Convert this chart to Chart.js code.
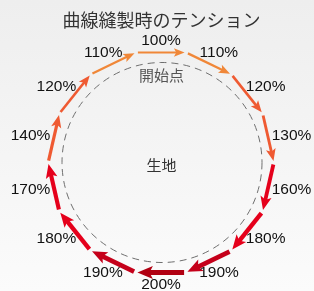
<!DOCTYPE html>
<html><head><meta charset="utf-8">
<script src="https://cdn.jsdelivr.net/npm/chart.js@4"></script>
<style>
html,body{margin:0;padding:0;}
body{width:314px;height:291px;background:linear-gradient(#eeeeee,#fbfbfb);overflow:hidden;}
#wrap{position:relative;width:314px;height:291px;}
</style></head><body><div id="wrap"><canvas id="c"></canvas></div>
<script>
// ---- data ----
const tensionLabels = ['100%','110%','120%','130%','160%','180%','190%','200%','190%','180%','170%','140%','120%','110%'];
const tensionValues = [100,110,120,130,160,180,190,200,190,180,170,140,120,110];
const titleText = '曲線縫製時のテンション';
const startText = '開始点';
const centerText = '生地';

// ---- layout ----
const PX = 110, CX = 161, CY = 162.5, W = 314, H = 291, PAD_LEFT = 9;
const TITLE_SIZE = 18, TITLE_PAD_TOP = 9, TITLE_PAD_BOTTOM = 4;
const TOP = TITLE_PAD_TOP + TITLE_SIZE * 1.2 + TITLE_PAD_BOTTOM;

function colorFor(t){
  if (t <= 110) return '#f08738';
  if (t <= 140) return '#ef5a32';
  if (t <= 180) return '#e5001b';
  if (t < 200) return '#c5001a';
  return '#b10012';
}
function widthFor(t){ return 2 + (t - 100) * 0.03; }
function headLen(w){ return 7.5 + 1.6 * w; }
function headHalf(w){ return 2.6 + 0.8 * w; }

const N = tensionValues.length;
const half = Math.PI / N;
const R = 1 / Math.cos(half);
const sideLen = 2 * Math.tan(half);
function vertex(a){ return {x: R * Math.sin(a), y: R * Math.cos(a)}; }

const datasets = tensionValues.map((t, k) => {
  const phi = 2 * Math.PI * k / N;
  const v0 = vertex(phi - half), v1 = vertex(phi + half);
  const w = widthFor(t);
  const t0 = 0.04;
  const t1 = 0.97 - (0.55 * headLen(w) / PX) / sideLen;
  const lerp = f => ({x: v0.x + (v1.x - v0.x) * f, y: v0.y + (v1.y - v0.y) * f});
  return {
    label: tensionLabels[k], data: [lerp(t0), lerp(t1)],
    borderColor: colorFor(t), backgroundColor: colorFor(t), borderWidth: w,
    pointRadius: 0, showLine: true, borderCapStyle: 'butt', clip: false, phi
  };
});

const decor = {
  id: 'decor',
  beforeDatasetsDraw(chart){
    const {ctx, scales: {x, y}} = chart;
    const cx = x.getPixelForValue(0), cy = y.getPixelForValue(0);
    const r = x.getPixelForValue(100 / 110) - cx;
    ctx.save();
    ctx.setLineDash([7, 5]);
    ctx.strokeStyle = '#6e6e6e'; ctx.lineWidth = 1;
    ctx.beginPath(); ctx.arc(cx + 1, cy, r, 0, 2 * Math.PI); ctx.stroke();
    ctx.setLineDash([]);
    ctx.font = '15px "Noto Sans CJK JP", sans-serif';
    ctx.textAlign = 'center'; ctx.textBaseline = 'middle';
    ctx.fillStyle = '#555';
    ctx.fillText(startText, cx + 0.5, y.getPixelForValue(0.795));
    ctx.fillStyle = '#333';
    ctx.fillText(centerText, cx + 0.5, y.getPixelForValue(-0.023));
    ctx.restore();
  },
  afterDatasetsDraw(chart){
    const {ctx, scales: {x, y}} = chart;
    const cx = x.getPixelForValue(0), cy = y.getPixelForValue(0);
    const ap = x.getPixelForValue(1) - cx;
    ctx.save();
    chart.data.datasets.forEach((ds, i) => {
      const pts = chart.getDatasetMeta(i).data;
      const p0 = pts[0], p1 = pts[1];
      let dx = p1.x - p0.x, dy = p1.y - p0.y;
      const len = Math.hypot(dx, dy); dx /= len; dy /= len;
      const w = ds.borderWidth, L = headLen(w), Hh = headHalf(w);
      const tipx = p1.x + dx * 0.55 * L, tipy = p1.y + dy * 0.55 * L;
      const bx = tipx - dx * L, by = tipy - dy * L;
      const nx = -dy, ny = dx;
      ctx.fillStyle = ds.borderColor;
      ctx.beginPath();
      ctx.moveTo(tipx, tipy);
      ctx.lineTo(bx + nx * Hh, by + ny * Hh);
      ctx.lineTo(tipx - dx * L * 0.78, tipy - dy * L * 0.78);
      ctx.lineTo(bx - nx * Hh, by - ny * Hh);
      ctx.closePath(); ctx.fill();

      ctx.font = '15.5px "Liberation Sans", Arial, sans-serif';
      const tw = ctx.measureText(ds.label).width;
      const lx = cx + (ap + 4 + tw / 2) * Math.sin(ds.phi);
      const ly = cy - (ap + 4 + 8) * Math.cos(ds.phi);
      ctx.fillStyle = '#111'; ctx.textAlign = 'center'; ctx.textBaseline = 'middle';
      ctx.fillText(ds.label, lx, ly);
    });
    ctx.restore();
  }
};

new Chart(document.getElementById('c'), {
  type: 'scatter',
  data: {datasets},
  options: {
    responsive: true, maintainAspectRatio: false, animation: false,
    layout: {padding: {left: PAD_LEFT, right: 0, top: 0, bottom: 0}},
    plugins: {
      legend: {display: false}, tooltip: {enabled: false},
      title: {display: true, text: titleText, color: '#333',
        font: {family: "'Noto Sans CJK JP', sans-serif", size: TITLE_SIZE, weight: 'normal', lineHeight: 1.2},
        padding: {top: TITLE_PAD_TOP, bottom: TITLE_PAD_BOTTOM}}
    },
    scales: {
      x: {type: 'linear', display: false, min: -(CX - PAD_LEFT) / PX, max: (W - CX) / PX},
      y: {type: 'linear', display: false, min: -(H - CY) / PX, max: (CY - TOP) / PX}
    }
  },
  plugins: [decor]
});
</script></body></html>
